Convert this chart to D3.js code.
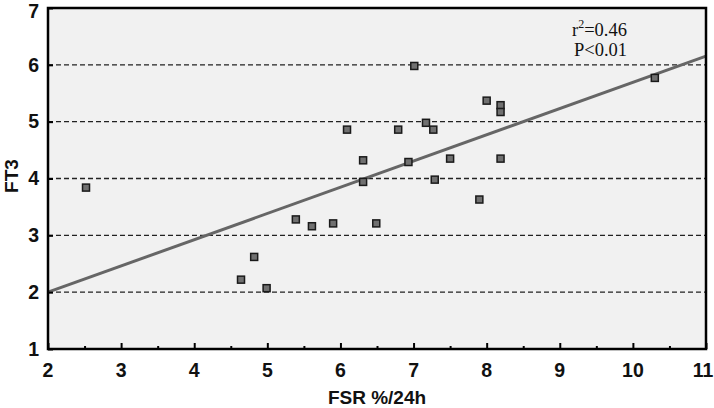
<!DOCTYPE html>
<html>
<head>
<meta charset="utf-8">
<script src="https://cdn.jsdelivr.net/npm/d3@7"></script>
<style>
  body { margin: 0; background: #fff; }
  svg { display: block; }
  .tick-label { font-family: "Liberation Sans", Arial, sans-serif; font-weight: bold; font-size: 19.5px; fill: #111; }
  .axis-title { font-family: "Liberation Sans", Arial, sans-serif; font-weight: bold; font-size: 19px; fill: #111; }
  .note { font-family: "Liberation Serif", "Times New Roman", serif; font-size: 18.5px; fill: #111; }
</style>
</head>
<body>
<svg id="chart"></svg>
<script>
// FSR (%/24h) vs FT3
const fsr = [2.52, 4.64, 4.82, 4.99, 5.39, 5.61, 5.90, 6.09, 6.31, 6.31,
             6.49, 6.79, 6.93, 7.01, 7.17, 7.27, 7.29, 7.50, 7.90, 8.00,
             8.19, 8.19, 8.19, 10.30];
const ft3 = [3.84, 2.22, 2.62, 2.07, 3.28, 3.16, 3.21, 4.86, 4.32, 3.94,
             3.21, 4.86, 4.29, 5.98, 4.98, 4.86, 3.98, 4.35, 3.63, 5.37,
             5.29, 5.17, 4.35, 5.77];

const xTicks = [2, 3, 4, 5, 6, 7, 8, 9, 10, 11];
const yTicks = [1, 2, 3, 4, 5, 6, 7];
const gridValues = [2, 3, 4, 5, 6];

// fitted line: FT3 = a + b * FSR
const fitIntercept = 1.077;
const fitSlope = 0.4615;

const width = 714, height = 408;
const margin = {top: 8, right: 8, bottom: 59, left: 48};

const svg = d3.select('#chart')
    .attr('width', width)
    .attr('height', height);

const x = d3.scaleLinear()
    .domain([2, 11])
    .range([margin.left, width - margin.right]);

const y = d3.scaleLinear()
    .domain([1, 7])
    .range([height - margin.bottom, margin.top]);

// plot background
svg.append('rect')
    .attr('x', x(2))
    .attr('y', y(7))
    .attr('width', x(11) - x(2))
    .attr('height', y(1) - y(7))
    .attr('fill', '#f1f1f1');

// dashed grid
svg.append('g')
    .selectAll('line')
    .data(gridValues)
    .join('line')
    .attr('x1', x(2))
    .attr('x2', x(11))
    .attr('y1', d => y(d))
    .attr('y2', d => y(d))
    .attr('stroke', '#222')
    .attr('stroke-width', 1.4)
    .attr('stroke-dasharray', '5,3');

// regression line
svg.append('line')
    .attr('x1', x(2))
    .attr('y1', y(fitIntercept + fitSlope * 2))
    .attr('x2', x(11))
    .attr('y2', y(fitIntercept + fitSlope * 11))
    .attr('stroke', '#666')
    .attr('stroke-width', 3);

// points
const pts = fsr.map((v, i) => ({x: v, y: ft3[i]}));
const s = 7;
svg.append('g')
    .selectAll('rect')
    .data(pts)
    .join('rect')
    .attr('x', d => x(d.x) - s / 2)
    .attr('y', d => y(d.y) - s / 2)
    .attr('width', s)
    .attr('height', s)
    .attr('fill', '#707070')
    .attr('stroke', '#1a1a1a')
    .attr('stroke-width', 1.5);

// frame
svg.append('rect')
    .attr('x', x(2))
    .attr('y', y(7))
    .attr('width', x(11) - x(2))
    .attr('height', y(1) - y(7))
    .attr('fill', 'none')
    .attr('stroke', '#000')
    .attr('stroke-width', 2.5);

// x axis ticks (inward, with half-step minors)
const xMinor = g => g.attr('transform', `translate(0,${y(1)})`)
    .call(d3.axisTop(x).tickValues(d3.range(2.5, 11, 1)).tickSize(3).tickFormat(''))
    .call(g => g.select('.domain').remove())
    .call(g => g.selectAll('line').attr('stroke', '#000').attr('stroke-width', 2));
svg.append('g').call(xMinor);

const xMajor = g => g.attr('transform', `translate(0,${y(1)})`)
    .call(d3.axisTop(x).tickValues(xTicks).tickSize(6).tickFormat(''))
    .call(g => g.select('.domain').remove())
    .call(g => g.selectAll('line').attr('stroke', '#000').attr('stroke-width', 2));
svg.append('g').call(xMajor);

svg.append('g')
    .selectAll('text')
    .data(xTicks)
    .join('text')
    .attr('class', 'tick-label')
    .attr('x', d => Math.min(x(d), width - 11))
    .attr('y', y(1) + 28)
    .attr('text-anchor', 'middle')
    .text(d => d);

// y axis ticks (inward)
const yAxis = g => g.attr('transform', `translate(${x(2)},0)`)
    .call(d3.axisRight(y).tickValues(yTicks).tickSize(5).tickFormat(''))
    .call(g => g.select('.domain').remove())
    .call(g => g.selectAll('line').attr('stroke', '#000').attr('stroke-width', 2));
svg.append('g').call(yAxis);

svg.append('g')
    .selectAll('text')
    .data(yTicks)
    .join('text')
    .attr('class', 'tick-label')
    .attr('x', x(2) - 9)
    .attr('y', d => Math.max(y(d), 11))
    .attr('dy', '0.35em')
    .attr('text-anchor', 'end')
    .text(d => d);

// axis titles
svg.append('text')
    .attr('class', 'axis-title')
    .attr('x', (x(2) + x(11)) / 2)
    .attr('y', 404)
    .attr('text-anchor', 'middle')
    .text('FSR %/24h');

svg.append('text')
    .attr('class', 'axis-title')
    .attr('transform', 'translate(18,176) rotate(-90)')
    .attr('text-anchor', 'middle')
    .text('FT3');

// annotation
const note = svg.append('text')
    .attr('class', 'note')
    .attr('x', 572)
    .attr('y', 36);
note.append('tspan').text('r');
note.append('tspan').attr('dy', -8).attr('font-size', 12).text('2');
note.append('tspan').attr('dy', 8).text('=0.46');

svg.append('text')
    .attr('class', 'note')
    .attr('x', 574)
    .attr('y', 56)
    .text('P<0.01');
</script>
</body>
</html>
